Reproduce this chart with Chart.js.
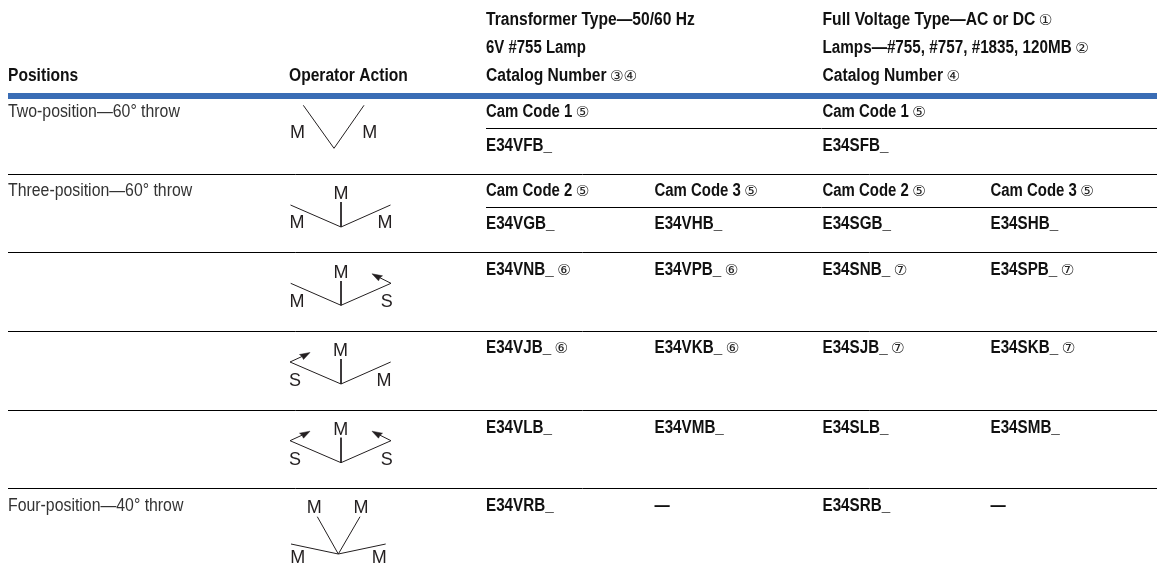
<!DOCTYPE html>
<html><head><meta charset="utf-8">
<style>html,body{margin:0;padding:0;background:#fff}canvas{display:block}</style>
<script src="https://cdn.jsdelivr.net/npm/chart.js@4"></script>
</head><body><canvas id="c" width="1157" height="577"></canvas>
<script>
// ---- table content ----
const headPositions = "Positions";
const headAction = "Operator Action";
const headTransformer = ["Transformer Type—50/60 Hz", "6V #755 Lamp", "Catalog Number"];
const headTransformerNotes = ["", "", "③④"];
const headFull = ["Full Voltage Type—AC or DC", "Lamps—#755, #757, #1835, 120MB", "Catalog Number"];
const headFullNotes = ["①", "②", "④"];
const positionNames = ["Two-position—60° throw", "Three-position—60° throw", "Four-position—40° throw"];
const camCodeRow1 = ["Cam Code 1", "", "Cam Code 1", ""];
const camCodeRow2 = ["Cam Code 2", "Cam Code 3", "Cam Code 2", "Cam Code 3"];
const camNote = "⑤";
const catalogF = ["E34VFB_", "", "E34SFB_", ""];
const catalogG = ["E34VGB_", "E34VHB_", "E34SGB_", "E34SHB_"];
const catalogN = ["E34VNB_", "E34VPB_", "E34SNB_", "E34SPB_"];
const catalogJ = ["E34VJB_", "E34VKB_", "E34SJB_", "E34SKB_"];
const catalogL = ["E34VLB_", "E34VMB_", "E34SLB_", "E34SMB_"];
const catalogR = ["E34VRB_", "—", "E34SRB_", "—"];
const notesN = ["⑥", "⑥", "⑦", "⑦"];
const notesJ = ["⑥", "⑥", "⑦", "⑦"];

// ---- layout ----
const W = 1157, H = 577;
const colX = [486, 654.5, 822.5, 990.5];
const BOLD = 'bold 18px "Liberation Sans"';
const LIGHT = '18px "Liberation Sans"';
const GLYPH = '18px "Liberation Sans"';
const NOTE = '15px "DejaVu Sans"';
const BOLDSX = 0.867, CAMSX = 0.83, CATSX = 0.845, LIGHTSX = 0.88;
const headTransformerSX = [0.867, 0.831, 0.867];
const headFullSX = [0.871, 0.847, 0.867];
const INK = "#231f20", BLUE = "#3a6db5";

const rules = [[8,174],[8,252],[8,331],[8,410],[8,488],[486,128],[486,207]];

const glyphLines = [
  [[303.3,105.3],[334,148.3],[364,105.3]],
  [[290.5,205],[341,227],[390.5,205]], [[341,202],[341,227]],
  [[290.7,283.3],[341,305.3],[391,283.3]], [[341,281],[341,305.3]],
  [[290,362],[341,384],[390.7,362]], [[341,359],[341,384]],
  [[290,440.7],[341,462.7],[391,440.7]], [[341,437.7],[341,462.7]],
  [[317.3,516.7],[338.3,554],[360,516.7]],
  [[291,544],[338.3,554],[385.7,544]],
  [[391,283.3],[380,277.8]],
  [[290,362],[302,356.5]],
  [[290,440.7],[302,435.2]],
  [[391,440.7],[380,435.2]]
];
const arrowHeads = [
  [[372,273.8],[382.5,275.8],[380,277.8],[378.5,280.8]],
  [[310,352.5],[299.5,354.5],[302,356.5],[303.5,359.5]],
  [[310,431.2],[299.5,433.2],[302,435.2],[303.5,438.2]],
  [[372,431.2],[382.5,433.2],[380,435.2],[378.5,438.2]]
];
const glyphLabels = [
  ["M",297.5,138],["M",369.7,138],
  ["M",341,199],["M",297,228],["M",385,228],
  ["M",341,278],["M",297,307],["S",386.7,307],
  ["M",340.5,356],["S",295,386],["M",384,386],
  ["M",340.7,435],["S",295,465],["S",386.7,465],
  ["M",314.3,513],["M",361,513],["M",297.7,563],["M",379.3,563]
];

const datasets = [];
const line = (pts, color, width) => datasets.push({
  data: pts.map(p => ({x:p[0], y:p[1]})), showLine:true, borderColor:color,
  borderWidth:width, pointRadius:0, tension:0, fill:false, clip:false,
  borderCapStyle:'butt', borderJoinStyle:'miter'
});
line([[8,96],[W,96]], BLUE, 6);
rules.forEach(r => line([[r[0],r[1]+0.5],[W,r[1]+0.5]], "#000", 1));
glyphLines.forEach(g => line(g, INK, 1));
arrowHeads.forEach(h => datasets.push({
  data:h.concat([h[0]]).map(p => ({x:p[0], y:p[1]})), showLine:true, borderColor:INK, borderWidth:0.5,
  backgroundColor:INK, fill:'shape', pointRadius:0, tension:0, clip:false
}));

const textPlugin = { id:'tableText', afterDatasetsDraw(chart){
  const ctx = chart.ctx, sx = chart.scales.x, sy = chart.scales.y;
  const put = (s,x,y,font,color,hs,align) => {
    if(!s) return 0;
    ctx.save(); ctx.font = font; ctx.fillStyle = color; ctx.textBaseline='alphabetic'; ctx.textAlign=align||'left';
    ctx.translate(sx.getPixelForValue(x), sy.getPixelForValue(y)); ctx.scale(hs||1,1);
    ctx.fillText(s,0,0);
    const w = ctx.measureText(s).width*(hs||1); ctx.restore(); return w;
  };
  const withNote = (s,note,x,y,hs) => {
    const w = put(s,x,y,BOLD,"#111",hs||BOLDSX);
    if(note) put(note,x+w+3.5,y-0.5,NOTE,"#222",1);
  };
  withNote(headPositions,"",8,81);
  withNote(headAction,"",289,81);
  [25,53,81].forEach((y,i)=>{ withNote(headTransformer[i],headTransformerNotes[i],colX[0],y,headTransformerSX[i]);
                              withNote(headFull[i],headFullNotes[i],colX[2],y,headFullSX[i]); });
  put(positionNames[0],8,117,LIGHT,"#333",LIGHTSX);
  put(positionNames[1],8,196,LIGHT,"#333",LIGHTSX);
  put(positionNames[2],8,511,LIGHT,"#333",LIGHTSX);
  const row = (vals,notes,y,hs) => vals.forEach((v,i)=>withNote(v,notes?(Array.isArray(notes)?notes[i]:(v?notes:"")):"",colX[i],y,hs));
  row(camCodeRow1,camNote,117,CAMSX);
  row(catalogF,null,151,CATSX);
  row(camCodeRow2,camNote,196,CAMSX);
  row(catalogG,null,229,CATSX);
  row(catalogN,notesN,275,CATSX);
  row(catalogJ,notesJ,353,CATSX);
  row(catalogL,null,433,CATSX);
  row(catalogR,null,511,CATSX);
  glyphLabels.forEach(l=>put(l[0],l[1],l[2],GLYPH,INK,1,'center'));
}};

new Chart(document.getElementById('c'),{
  type:'scatter',
  data:{datasets},
  options:{
    responsive:false, animation:false, events:[],
    layout:{padding:0, autoPadding:false},
    plugins:{legend:{display:false},tooltip:{enabled:false},title:{display:false}},
    scales:{
      x:{type:'linear',min:0,max:W,display:false},
      y:{type:'linear',min:0,max:H,reverse:true,display:false}
    }
  },
  plugins:[textPlugin]
});
</script></body></html>
